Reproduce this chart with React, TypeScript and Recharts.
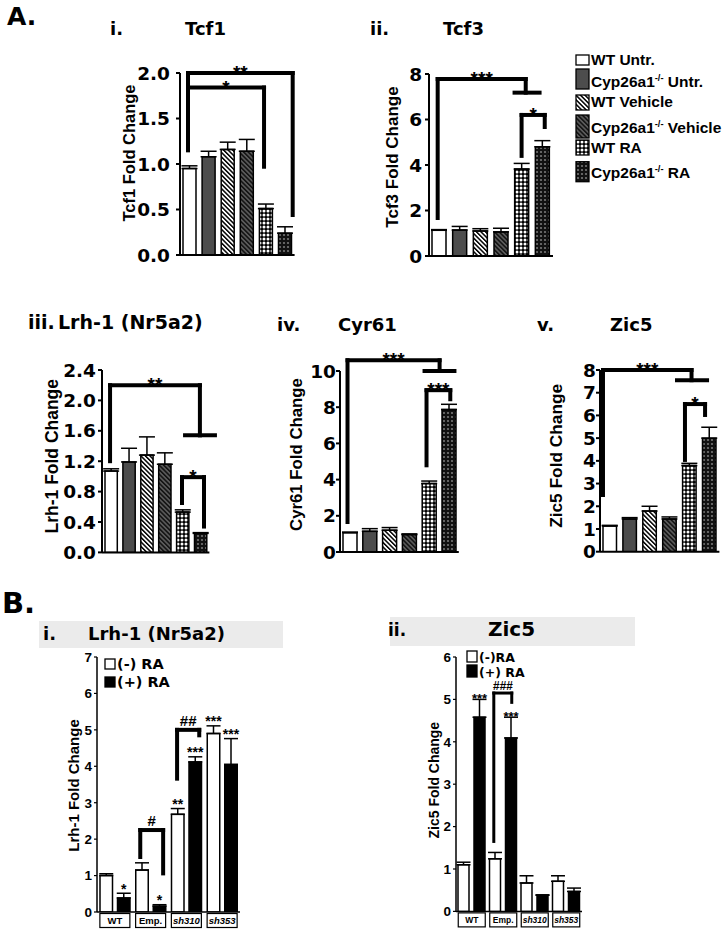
import React from "react";
import {
  BarChart,
  Bar,
  XAxis,
  YAxis,
  Cell,
  ErrorBar,
  ReferenceLine,
  LabelList,
} from "recharts";

// ---- data: panel A (six treatment groups) ----
const groupsA = [
  "WT Untr.",
  "Cyp26a1-/- Untr.",
  "WT Vehicle",
  "Cyp26a1-/- Vehicle",
  "WT RA",
  "Cyp26a1-/- RA",
];

const tcf1 = [0.95, 1.08, 1.16, 1.14, 0.51, 0.24];
const tcf1Err = [0.03, 0.06, 0.08, 0.13, 0.05, 0.07];
const tcf1Ticks = [0, 0.5, 1, 1.5, 2];

const tcf3 = [1.13, 1.14, 1.1, 1.06, 3.82, 4.8];
const tcf3Err = [0.03, 0.16, 0.1, 0.16, 0.25, 0.27];
const tcf3Ticks = [0, 2, 4, 6, 8];

const lrhA = [1.07, 1.19, 1.28, 1.16, 0.53, 0.25];
const lrhAErr = [0.03, 0.18, 0.24, 0.15, 0.03, 0.01];
const lrhATicks = [0, 0.4, 0.8, 1.2, 1.6, 2.0, 2.4];

const cyr61 = [1.07, 1.14, 1.2, 0.96, 3.78, 7.87];
const cyr61Err = [0.03, 0.15, 0.15, 0.04, 0.14, 0.29];
const cyr61Ticks = [0, 2, 4, 6, 8, 10];

const zic5A = [1.13, 1.44, 1.79, 1.44, 3.79, 5.0];
const zic5AErr = [0.03, 0.06, 0.21, 0.09, 0.1, 0.48];
const zic5ATicks = [0, 1, 2, 3, 4, 5, 6, 7, 8];

// significance brackets: [x1, y1, x2, y2, label?] in (band index, value) units
const tcf1Brackets: any[] = [
  [0.42, 2.0, 5.9, 2.0, "**"],
  [0.42, 1.15, 0.42, 2.0],
  [5.9, 2.0, 5.9, 0.44],
  [0.42, 1.84, 4.4, 1.84, "*"],
  [4.4, 1.84, 4.4, 0.97],
];
const tcf3Brackets: any[] = [
  [0.42, 7.78, 4.68, 7.78, "***"],
  [0.42, 1.67, 0.42, 7.78],
  [4.68, 7.78, 4.68, 7.18],
  [4.14, 7.18, 5.35, 7.18],
  [4.48, 6.2, 5.6, 6.2, "*"],
  [4.48, 4.4, 4.48, 6.2],
  [5.6, 6.2, 5.6, 5.67],
];
const lrhABrackets: any[] = [
  [0.45, 2.2, 5.47, 2.2, "**"],
  [0.45, 1.2, 0.45, 2.2],
  [5.47, 2.2, 5.47, 1.54],
  [4.64, 1.54, 6.31, 1.54],
  [4.47, 0.99, 5.7, 0.99, "*"],
  [4.47, 0.65, 4.47, 0.99],
  [5.7, 0.99, 5.7, 0.34],
];
const cyr61Brackets: any[] = [
  [0.38, 10.59, 5.03, 10.59, "***"],
  [0.38, 1.66, 0.38, 10.59],
  [5.03, 10.59, 5.03, 10.0],
  [4.27, 10.0, 5.78, 10.0],
  [4.37, 8.94, 5.57, 8.94, "***"],
  [4.37, 4.79, 4.37, 8.94],
  [5.57, 8.94, 5.57, 8.44],
];
const zic5ABrackets: any[] = [
  [0.15, 8.0, 4.6, 8.0, "***"],
  [0.15, 2.5, 0.15, 8.0],
  [4.6, 8.0, 4.6, 7.55],
  [3.87, 7.55, 5.38, 7.55],
  [4.27, 6.5, 5.28, 6.5, "*"],
  [4.27, 4.04, 4.27, 6.5],
  [5.28, 6.5, 5.28, 6.02],
];

// ---- data: panel B (knockdown lines, -/+ RA) ----
const groupsB = ["WT", "Emp.", "sh310", "sh353"];

const lrhBMinus = [1.0, 1.15, 2.68, 4.9];
const lrhBMinusErr = [0.05, 0.2, 0.16, 0.21];
const lrhBPlus = [0.385, 0.16, 4.12, 4.05];
const lrhBPlusErr = [0.13, 0.04, 0.14, 0.71];
const lrhBMinusStars = ["", "", "**", "***"];
const lrhBPlusStars = ["*", "*", "***", "***"];
const lrhBTicks = [0, 1, 2, 3, 4, 5, 6, 7];
const lrhBBrackets: any[] = [
  [1.21, 2.25, 1.85, 2.25, "#"],
  [1.21, 1.51, 1.21, 2.25],
  [1.85, 2.25, 1.85, 1.06],
  [2.24, 5.0, 2.86, 5.0, "##"],
  [2.24, 3.66, 2.24, 5.0],
  [2.86, 5.0, 2.86, 4.85],
];

const zicBMinus = [1.1, 1.24, 0.67, 0.71];
const zicBMinusErr = [0.06, 0.15, 0.17, 0.13];
const zicBPlus = [4.58, 4.09, 0.38, 0.47];
const zicBPlusErr = [0.42, 0.49, 0.01, 0.08];
const zicBMinusStars = ["", "", "", ""];
const zicBPlusStars = ["***", "***", "", ""];
const zicBTicks = [0, 1, 2, 3, 4, 5, 6];
const zicBBrackets: any[] = [
  [1.2, 5.15, 1.77, 5.15, "###"],
  [1.2, 1.65, 1.2, 5.15],
  [1.77, 5.15, 1.77, 4.93],
];

const DV = "'DejaVu Sans', sans-serif";
const LS = "'Liberation Sans', Arial, sans-serif";

const fillsA = [
  "#ffffff",
  "#4d4d4d",
  "url(#pWtVeh)",
  "url(#pCypVeh)",
  "url(#pWtRa)",
  "url(#pCypRa)",
];

const yLabel =
  (text: string, dist: number, dy: number, size: number) => (props: any) => {
    const vb = props.viewBox || {};
    const cx = vb.x + vb.width - dist;
    const cy = vb.y + vb.height / 2 + dy;
    return (
      <text
        x={cx}
        y={cy}
        transform={`rotate(-90 ${cx} ${cy})`}
        textAnchor="middle"
        dominantBaseline="central"
        fontFamily={LS}
        fontWeight={700}
        fontSize={size}
        fill="#000"
      >
        {text}
      </text>
    );
  };

const sigLabel =
  (text: string, size: number, dy: number, font: string, italic = false) =>
  (props: any) => {
    const vb = props.viewBox || {};
    return (
      <text
        x={vb.x + vb.width / 2}
        y={vb.y + dy}
        textAnchor="middle"
        fontFamily={font}
        fontWeight={700}
        fontStyle={italic ? "italic" : "normal"}
        fontSize={size}
        fill="#000"
      >
        {text}
      </text>
    );
  };

function brackets(segs: any[], width: number, lab: (t: string) => any) {
  return segs.map((s, i) => (
    <ReferenceLine
      key={`br-${i}`}
      xAxisId="pos"
      segment={[
        { x: s[0], y: s[1] },
        { x: s[2], y: s[3] },
      ]}
      stroke="#000"
      strokeWidth={width}
      strokeLinecap="square"
      ifOverflow="visible"
      label={s[4] ? lab(s[4]) : undefined}
    />
  ));
}

const YW_A = 70;
const MT_A = 40;
const MR_A = 24;
const MB_A = 14;
const XH_A = 3;

function PanelA({ c }: { c: any }) {
  const data = groupsA.map((name, i) => ({
    name,
    pos: i + 0.5,
    v: c.vals[i],
    e: [0, c.errs[i]],
  }));
  const W = YW_A + c.w + MR_A;
  const H = MT_A + c.h + XH_A + MB_A;
  return (
    <div
      style={{
        position: "absolute",
        left: c.left - YW_A,
        top: c.top - MT_A,
        width: W,
        height: H,
      }}
    >
      <BarChart
        width={W}
        height={H}
        data={data}
        margin={{ top: MT_A, right: MR_A, bottom: MB_A, left: 0 }}
      >
        <XAxis
          dataKey="name"
          tick={false}
          tickLine={false}
          axisLine={{ stroke: "#000", strokeWidth: 2 }}
          height={XH_A}
        />
        <XAxis
          xAxisId="pos"
          dataKey="pos"
          type="number"
          domain={[0, 6]}
          allowDataOverflow
          hide
        />
        <YAxis
          domain={c.domain}
          ticks={c.ticks}
          interval={0}
          allowDataOverflow
          width={YW_A}
          tickFormatter={(v: number) => v.toFixed(c.dec)}
          tick={{ fill: "#000", fontSize: 18.5, fontWeight: 700, fontFamily: DV }}
          tickSize={4}
          tickMargin={c.tm}
          tickLine={{ stroke: "#000", strokeWidth: 2 }}
          axisLine={{ stroke: "#000", strokeWidth: 2 }}
          label={yLabel(c.ylabel, c.dist, c.dy, c.lsize)}
        />
        <Bar
          dataKey="v"
          barSize={c.bar}
          stroke="#000"
          strokeWidth={1.5}
          isAnimationActive={false}
        >
          {data.map((d, i) => (
            <Cell key={d.name} fill={fillsA[i]} />
          ))}
          <ErrorBar
            dataKey="e"
            width={8}
            stroke="#000"
            strokeWidth={1.5}
            direction="y"
          />
        </Bar>
        {brackets(c.segs, 4, (t) => sigLabel(t, 19, 6, LS))}
      </BarChart>
    </div>
  );
}

const YW_B = 40;
const MT_B = 12;
const MR_B = 12;
const MB_B = 4;
const XH_B = 18;

const starContent =
  (vals: number[], errs: number[], size: number, lift: number) =>
  (props: any) => {
    if (!props.value) return null;
    const vb = props.viewBox || props;
    const i = props.index ?? 0;
    const v = vals[i];
    const top = vb.y - (v > 0 ? (errs[i] * vb.height) / v : 0);
    return (
      <text
        x={vb.x + vb.width / 2}
        y={top + lift}
        textAnchor="middle"
        fontFamily={LS}
        fontWeight={700}
        fontSize={size}
        fill="#000"
      >
        {props.value}
      </text>
    );
  };

const boxTick = (w: number, fs: number) => (props: any) => {
  const { x, y, payload } = props;
  const italic = String(payload.value).startsWith("sh");
  return (
    <g>
      <rect
        x={x - w / 2}
        y={y + 1.5}
        width={w}
        height={14}
        fill="#fff"
        stroke="#000"
        strokeWidth={1.2}
      />
      <text
        x={x}
        y={y + 12}
        textAnchor="middle"
        fontFamily={LS}
        fontWeight={700}
        fontStyle={italic ? "italic" : "normal"}
        fontSize={fs}
        fill="#000"
      >
        {payload.value}
      </text>
    </g>
  );
};

function PanelB({ c }: { c: any }) {
  const data = groupsB.map((name, i) => ({
    name,
    pos: i + 0.5,
    m: c.minus[i],
    p: c.plus[i],
    me: [0, c.minusErr[i]],
    pe: [0, c.plusErr[i]],
    ms: c.minusStars[i],
    ps: c.plusStars[i],
  }));
  const W = YW_B + c.w + MR_B;
  const H = MT_B + c.h + XH_B + MB_B;
  return (
    <div
      style={{
        position: "absolute",
        left: c.left - YW_B,
        top: c.top - MT_B,
        width: W,
        height: H,
      }}
    >
      <BarChart
        width={W}
        height={H}
        data={data}
        barGap={c.gap}
        margin={{ top: MT_B, right: MR_B, bottom: MB_B, left: 0 }}
      >
        <XAxis
          dataKey="name"
          tick={boxTick(c.boxW, c.catSize)}
          tickLine={false}
          tickSize={0}
          tickMargin={0}
          interval={0}
          axisLine={{ stroke: "#000", strokeWidth: 1.5 }}
          height={XH_B}
        />
        <XAxis
          xAxisId="pos"
          dataKey="pos"
          type="number"
          domain={[0, 4]}
          allowDataOverflow
          hide
        />
        <YAxis
          domain={c.domain}
          ticks={c.ticks}
          interval={0}
          allowDataOverflow
          width={YW_B}
          tick={{ fill: "#000", fontSize: 13.5, fontWeight: 700, fontFamily: LS }}
          tickSize={3}
          tickMargin={2}
          tickLine={{ stroke: "#000", strokeWidth: 1.2 }}
          axisLine={{ stroke: "#000", strokeWidth: 1.5 }}
          label={yLabel(c.ylabel, c.dist, c.dy, c.lsize)}
        />
        <Bar
          dataKey="m"
          barSize={c.bar}
          fill="#fff"
          stroke="#000"
          strokeWidth={1.5}
          isAnimationActive={false}
        >
          <ErrorBar dataKey="me" width={7} stroke="#000" strokeWidth={1.5} direction="y" />
          <LabelList
            dataKey="ms"
            content={starContent(c.minus, c.minusErr, c.starSize, c.lift)}
          />
        </Bar>
        <Bar
          dataKey="p"
          barSize={c.bar}
          fill="#000"
          stroke="#000"
          strokeWidth={1.5}
          isAnimationActive={false}
        >
          <ErrorBar dataKey="pe" width={7} stroke="#000" strokeWidth={1.5} direction="y" />
          <LabelList
            dataKey="ps"
            content={starContent(c.plus, c.plusErr, c.starSize, c.lift)}
          />
        </Bar>
        {brackets(c.segs, c.segW, (t) =>
          sigLabel(t, c.hashSize, c.hashDy, LS, c.hashItalic)
        )}
      </BarChart>
    </div>
  );
}

const panelsA = [
  { vals: tcf1, errs: tcf1Err, segs: tcf1Brackets, domain: [0, 2], ticks: tcf1Ticks, dec: 1,
    left: 180, top: 73, w: 114.6, h: 182, bar: 13, ylabel: "Tcf1 Fold Change", dist: 51, dy: -11, lsize: 16.5, tm: 6 },
  { vals: tcf3, errs: tcf3Err, segs: tcf3Brackets, domain: [0, 8], ticks: tcf3Ticks, dec: 0,
    left: 429.4, top: 74, w: 124, h: 182, bar: 14, ylabel: "Tcf3 Fold Change", dist: 37, dy: -8, lsize: 17, tm: 3 },
  { vals: lrhA, errs: lrhAErr, segs: lrhABrackets, domain: [0, 2.4], ticks: lrhATicks, dec: 1,
    left: 102.2, top: 369.6, w: 107.4, h: 182.4, bar: 12.3, ylabel: "Lrh-1 Fold Change", dist: 49.5, dy: -5, lsize: 17.5, tm: 2 },
  { vals: cyr61, errs: cyr61Err, segs: cyr61Brackets, domain: [0, 10], ticks: cyr61Ticks, dec: 0,
    left: 340.4, top: 370.7, w: 118.8, h: 181, bar: 14, ylabel: "Cyr61 Fold Change", dist: 43, dy: -7, lsize: 16.8, tm: 0 },
  { vals: zic5A, errs: zic5AErr, segs: zic5ABrackets, domain: [0, 8], ticks: zic5ATicks, dec: 0,
    left: 600, top: 370, w: 119.4, h: 181.7, bar: 13.5, ylabel: "Zic5 Fold Change", dist: 44, dy: -5, lsize: 17.3, tm: 0 },
];

const panelsB = [
  { minus: lrhBMinus, minusErr: lrhBMinusErr, plus: lrhBPlus, plusErr: lrhBPlusErr,
    minusStars: lrhBMinusStars, plusStars: lrhBPlusStars, segs: lrhBBrackets,
    domain: [0, 7], ticks: lrhBTicks, left: 96.7, top: 656.7, w: 143, h: 255,
    bar: 12.5, gap: 5, boxW: 30, catSize: 9.5, ylabel: "Lrh-1 Fold Change", dist: 23.4, dy: 1, lsize: 15,
    starSize: 14, lift: 0.5, segW: 4, hashSize: 15, hashDy: -4, hashItalic: false },
  { minus: zicBMinus, minusErr: zicBMinusErr, plus: zicBPlus, plusErr: zicBPlusErr,
    minusStars: zicBMinusStars, plusStars: zicBPlusStars, segs: zicBBrackets,
    domain: [0, 6], ticks: zicBTicks, left: 456, top: 657.3, w: 126, h: 254.4,
    bar: 11, gap: 5, boxW: 27, catSize: 8.5, ylabel: "Zic5 Fold Change", dist: 22, dy: -4, lsize: 14,
    starSize: 13, lift: 4, segW: 3, hashSize: 12, hashDy: -3, hashItalic: true },
];

function LegendLabel({ text, x, y, size }: any) {
  const parts = text.split("-/-");
  if (parts.length === 1) {
    return (
      <text x={x} y={y} fontFamily={LS} fontWeight={700} fontSize={size} fill="#000">
        {text}
      </text>
    );
  }
  return (
    <text x={x} y={y} fontFamily={LS} fontWeight={700} fontSize={size} fill="#000">
      <tspan>{parts[0]}</tspan>
      <tspan dy={-6} fontSize={size * 0.6}>-/-</tspan>
      <tspan dy={6}>{parts[1]}</tspan>
    </text>
  );
}

function Background() {
  const legendA = [
    { y: 55, h: 10, base: 65 },
    { y: 69, h: 20, base: 86.7 },
    { y: 95, h: 15, base: 107.3 },
    { y: 115, h: 23, base: 133.3 },
    { y: 140, h: 15, base: 153.3 },
    { y: 161.7, h: 20, base: 178.3 },
  ];
  const titles = [
    { t: "i.", x: 110, y: 35, s: 18 },
    { t: "Tcf1", x: 185, y: 35, s: 18 },
    { t: "ii.", x: 370, y: 35, s: 18 },
    { t: "Tcf3", x: 443, y: 35, s: 18 },
    { t: "iii.", x: 28, y: 329, s: 19 },
    { t: "Lrh-1 (Nr5a2)", x: 58, y: 329, s: 19 },
    { t: "iv.", x: 277, y: 331, s: 18 },
    { t: "Cyr61", x: 338, y: 331, s: 18 },
    { t: "v.", x: 537, y: 331, s: 18 },
    { t: "Zic5", x: 610, y: 331, s: 18 },
    { t: "i.", x: 43, y: 640, s: 18 },
    { t: "Lrh-1 (Nr5a2)", x: 88, y: 640, s: 18 },
    { t: "ii.", x: 388, y: 636, s: 17 },
    { t: "Zic5", x: 488, y: 636, s: 20 },
  ];
  return (
    <svg
      width={727}
      height={930}
      style={{ position: "absolute", left: 0, top: 0 }}
    >
      <defs>
        <pattern id="pWtVeh" width="3.2" height="3.2" patternUnits="userSpaceOnUse" patternTransform="rotate(-45)">
          <rect width="3.2" height="3.2" fill="#fff" />
          <rect width="1.5" height="3.2" fill="#000" />
        </pattern>
        <pattern id="pCypVeh" width="3.2" height="3.2" patternUnits="userSpaceOnUse" patternTransform="rotate(-45)">
          <rect width="3.2" height="3.2" fill="#5a5a5a" />
          <rect width="1.5" height="3.2" fill="#111" />
        </pattern>
        <pattern id="pWtRa" width="4" height="4" patternUnits="userSpaceOnUse">
          <rect width="4" height="4" fill="#000" />
          <circle cx="2" cy="2" r="1.5" fill="#fff" />
        </pattern>
        <pattern id="pCypRa" width="4" height="4" patternUnits="userSpaceOnUse">
          <rect width="4" height="4" fill="#111" />
          <circle cx="2" cy="2" r="1.1" fill="#777" />
        </pattern>
      </defs>
      <rect width={727} height={930} fill="#fff" />

      <text x={7} y={25} fontFamily={DV} fontWeight={700} fontSize={25}>A.</text>
      <text x={2} y={613} fontFamily={DV} fontWeight={700} fontSize={29}>B.</text>

      <rect x={39} y={621} width={244} height={27} fill="#ebebeb" />
      <rect x={390} y={617} width={245} height={29} fill="#ebebeb" />

      {titles.map((t, i) => (
        <text key={i} x={t.x} y={t.y} fontFamily={DV} fontWeight={700} fontSize={t.s} fill="#000">
          {t.t}
        </text>
      ))}

      {groupsA.map((g, i) => (
        <g key={g}>
          <rect x={576} y={legendA[i].y} width={13} height={legendA[i].h} fill={fillsA[i]} stroke="#000" strokeWidth={1.3} />
          <LegendLabel text={g} x={591} y={legendA[i].base} size={15.5} />
        </g>
      ))}

      <rect x={105} y={659} width={10} height={10} fill="#fff" stroke="#000" strokeWidth={1.3} />
      <rect x={105} y={677} width={10} height={10} fill="#000" stroke="#000" strokeWidth={1.3} />
      <text x={117} y={669} fontFamily={DV} fontWeight={700} fontSize={14.5}>(-) RA</text>
      <text x={117} y={687} fontFamily={DV} fontWeight={700} fontSize={14.5}>(+) RA</text>

      <rect x={467} y={651} width={10} height={11} fill="#fff" stroke="#000" strokeWidth={1.3} />
      <rect x={467} y={665} width={10} height={12} fill="#000" stroke="#000" strokeWidth={1.3} />
      <text x={479} y={661.5} fontFamily={DV} fontWeight={700} fontSize={12.5}>(-)RA</text>
      <text x={479} y={676.5} fontFamily={DV} fontWeight={700} fontSize={12.5}>(+) RA</text>
    </svg>
  );
}

export default function App() {
  return (
    <div
      style={{
        position: "absolute",
        left: 0,
        top: 0,
        width: 727,
        height: 930,
        overflow: "hidden",
        background: "#fff",
      }}
    >
      <Background />
      {panelsA.map((c, i) => (
        <PanelA key={`a${i}`} c={c} />
      ))}
      {panelsB.map((c, i) => (
        <PanelB key={`b${i}`} c={c} />
      ))}
    </div>
  );
}
